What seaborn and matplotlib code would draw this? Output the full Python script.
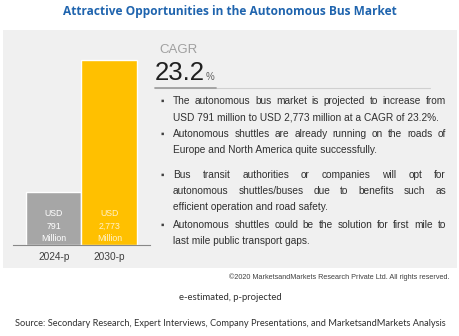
import matplotlib
matplotlib.use("Agg")
import matplotlib.pyplot as plt
import seaborn as sns
import pandas as pd
from matplotlib.patches import Rectangle
from matplotlib.lines import Line2D

years = ["2024-p", "2030-p"]
values = [791, 2773]
bar_labels = ["USD\n791\nMillion", "USD\n2,773\nMillion"]
bar_colors = ["#A6A6A6", "#FFC000"]
label_colors = ["#FFFFFF", "#FFF2CC"]
cagr = "23.2"
bullets = [
    ["The autonomous bus market is projected to increase from",
     "USD 791 million to USD 2,773 million at a CAGR of 23.2%."],
    ["Autonomous shuttles are already running on the roads of",
     "Europe and North America quite successfully."],
    ["Bus transit authorities or companies will opt for",
     "autonomous shuttles/buses due to benefits such as",
     "efficient operation and road safety."],
    ["Autonomous shuttles could be the solution for first mile to",
     "last mile public transport gaps."],
]
justify = [[True, False], [True, False], [True, True, False], [True, False]]
title = "Attractive Opportunities in the Autonomous Bus Market"
copyright_txt = "©2020 MarketsandMarkets Research Private Ltd. All rights reserved."
note = "e-estimated, p-projected"
source = "Source: Secondary Research, Expert Interviews, Company Presentations, and MarketsandMarkets Analysis"

sns.set_theme(style="white")
plt.rcParams['font.family'] = ['Liberation Sans', 'DejaVu Sans']

W, H = 460, 336
fig = plt.figure(figsize=(W / 100, H / 100), dpi=100)
fig.patch.set_facecolor("white")

def fx(x):
    return x / W

def fy(y):
    return 1 - y / H

# grey panel
panel = Rectangle((fx(3), fy(268)), fx(454), (268 - 30) / H,
                  transform=fig.transFigure, facecolor="#F0F0F0",
                  edgecolor="none", zorder=-5)
fig.patches.append(panel)

# bar axes
ax = fig.add_axes([fx(13), fy(245), fx(137), (245 - 45) / H])
ax.set_zorder(5)
df = pd.DataFrame({"year": years, "value": values})
sns.barplot(data=df, x="year", y="value", hue="year", palette=bar_colors,
            width=1.0, legend=False, ax=ax, saturation=1)
ax.set_xlim(-0.73, 1.73)
ax.set_ylim(0, 3000)
ax.patch.set_alpha(0)
for s in ["top", "right", "left"]:
    ax.spines[s].set_visible(False)
ax.spines["bottom"].set_color("#888888")
ax.spines["bottom"].set_linewidth(0.8)
ax.set_yticks([])
ax.set_xlabel("")
ax.set_ylabel("")
ax.tick_params(axis="x", length=0, labelsize=7.3, colors="#404040", pad=5)
for i, (lab, c) in enumerate(zip(bar_labels, label_colors)):
    ax.text(i, 25, lab, ha="center", va="bottom", fontsize=6.3, color=c,
            linespacing=1.5)

# CAGR block
fig.text(fx(159), fy(50), "CAGR", fontsize=9.5, color="#A0A0A0", va="center")
t = fig.text(fx(155), fy(73), cagr, fontsize=18.5, color="#202020", va="center")
fig.canvas.draw()
bb = t.get_window_extent()
fig.text(bb.x1 / W + 0.002, fy(77), "%", fontsize=7, color="#606060", va="center")
fig.lines.append(Line2D([fx(155), fx(430)], [fy(88), fy(88)], transform=fig.transFigure,
                        color="#D0D0D0", lw=0.8))
fig.lines.append(Line2D([fx(155), fx(216)], [fy(88), fy(88)], transform=fig.transFigure,
                        color="#A0A0A0", lw=1.3))

# bullets
starts = [101, 134, 175, 225]
x0, x1 = 173, 446
fs = 7.3
renderer = fig.canvas.get_renderer()
for lines, just, y in zip(bullets, justify, starts):
    fig.text(fx(162), fy(y), "▪", fontsize=7, color="#404040", va="center", ha="center")
    for k, (line, j) in enumerate(zip(lines, just)):
        yy = fy(y + k * 16)
        words = line.split(" ")
        if j and len(words) > 1:
            objs = [fig.text(0, yy, w, fontsize=fs, color="#303030", va="center") for w in words]
            widths = [o.get_window_extent(renderer).width for o in objs]
            gap = max((x1 - x0 - sum(widths)) / (len(words) - 1), 2.0)
            xx = x0
            for o, w in zip(objs, widths):
                o.set_x(fx(xx))
                xx += w + gap
        else:
            fig.text(fx(x0), yy, line, fontsize=fs, color="#303030", va="center")

# title and footers
fig.text(0.5, fy(12), title, ha="center", va="center", fontsize=8.6,
         fontweight="bold", color="#1F64AE", family=["Open Sans", "DejaVu Sans"])
fig.text(fx(450), fy(277), copyright_txt, ha="right", va="center", fontsize=5.2,
         color="#404040")
fig.text(0.5, fy(298), note, ha="center", va="center", fontsize=6.8, color="#303030",
         family=["Lato", "DejaVu Sans"])
fig.text(0.5, fy(323), source, ha="center", va="center", fontsize=6.7, color="#303030",
         family=["Lato", "DejaVu Sans"])

fig.savefig("out.png", dpi=100, facecolor="white")
